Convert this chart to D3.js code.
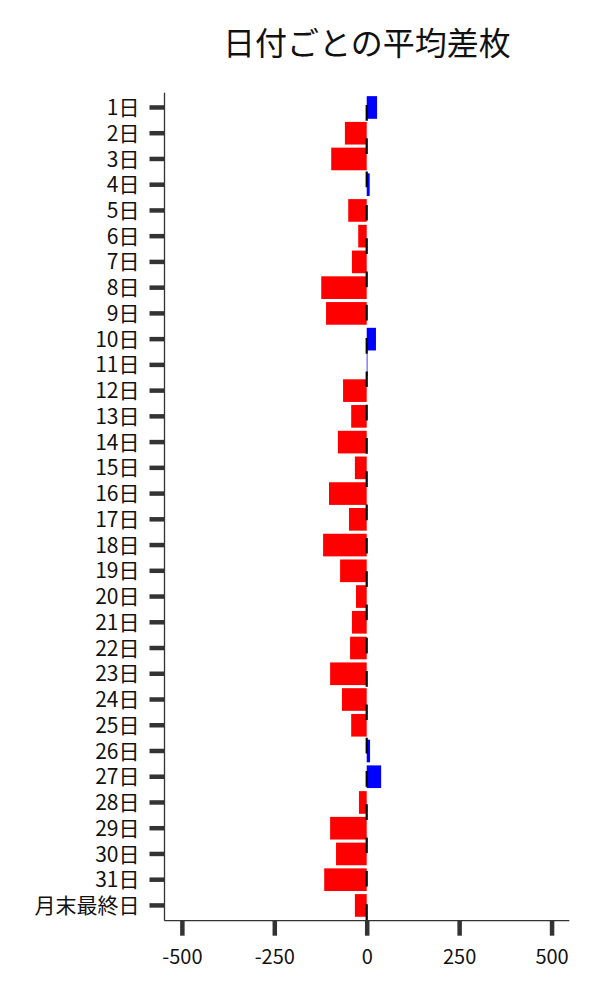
<!DOCTYPE html>
<html>
<head>
<meta charset="utf-8">
<script src="https://cdn.jsdelivr.net/npm/d3@7"></script>
<style>
  html, body { margin: 0; padding: 0; background: #fff; }
  svg { display: block; }
  text { font-family: "Noto Sans CJK JP", "Noto Sans", sans-serif; }
</style>
</head>
<body>
<svg id="chart" width="600" height="1000"></svg>
<script>
const title = "日付ごとの平均差枚";
const categories = ["1日","2日","3日","4日","5日","6日","7日","8日","9日","10日",
  "11日","12日","13日","14日","15日","16日","17日","18日","19日","20日",
  "21日","22日","23日","24日","25日","26日","27日","28日","29日","30日","31日","月末最終日"];
const values = [28, -59, -96, 8, -50, -23, -40, -123, -110, 25,
  2, -64, -42, -78, -32, -102, -48, -118, -72, -29,
  -40, -45, -99, -67, -42, 9, 39, -21, -99, -83, -115, -32];
const xTicks = [-500, -250, 0, 250, 500];
const xDomain = [-547, 548];

const svg = d3.select("#chart");
const plotLeft = 164.5, plotRight = 569.3, plotTop = 92.7, plotBottom = 920.7;

const x = d3.scaleLinear().domain(xDomain).range([plotLeft, plotRight]);
const y = d3.scaleBand().domain(categories).range([94.6, 918.3])
  .paddingInner(0.12).paddingOuter(0.06);

// bars
svg.append("g").selectAll("rect").data(categories).join("rect")
  .attr("x", (d, i) => Math.min(x(values[i]), x(0)))
  .attr("width", (d, i) => Math.abs(x(values[i]) - x(0)))
  .attr("y", d => y(d))
  .attr("height", y.bandwidth())
  .attr("fill", (d, i) => values[i] >= 0 ? "#0000ff" : "#ff0000");

// dashed zero line
svg.append("line")
  .attr("x1", x(0)).attr("x2", x(0))
  .attr("y1", plotTop).attr("y2", plotBottom)
  .attr("stroke", "#000").attr("stroke-width", 2.2)
  .attr("stroke-dasharray", "15.7 17.6")
  .attr("stroke-dashoffset", 21);

// y axis ticks
const yAxis = d3.axisLeft(y).tickSize(15).tickPadding(10);
const gy = svg.append("g").attr("transform", `translate(${plotLeft},0)`).call(yAxis);
gy.select(".domain").remove();
gy.selectAll(".tick line").attr("stroke", "#333").attr("stroke-width", 4.5);
gy.selectAll(".tick text").attr("font-size", 21).attr("fill", "#111").attr("dy", "0.36em");

// x axis ticks
const xAxis = d3.axisBottom(x).tickValues(xTicks).tickSize(15).tickPadding(14)
  .tickFormat(d3.format("d"));
const gx = svg.append("g").attr("transform", `translate(0,${plotBottom})`).call(xAxis);
gx.select(".domain").remove();
gx.selectAll(".tick line").attr("stroke", "#333").attr("stroke-width", 4.5);
gx.selectAll(".tick text").attr("font-size", 20).attr("fill", "#111").attr("dy", "0.71em")
  .text(d => d < 0 ? "-" + Math.abs(d) : String(d));

// spines
svg.append("line").attr("x1", plotLeft).attr("x2", plotLeft).attr("y1", plotTop).attr("y2", plotBottom)
  .attr("stroke", "#333").attr("stroke-width", 1.3);
svg.append("line").attr("x1", plotLeft).attr("x2", plotRight).attr("y1", plotBottom).attr("y2", plotBottom)
  .attr("stroke", "#333").attr("stroke-width", 1.3);

// title
svg.append("text").attr("x", (plotLeft + plotRight) / 2).attr("y", 54.5)
  .attr("text-anchor", "middle").attr("font-size", 32).attr("fill", "#111")
  .text(title);
</script>
</body>
</html>
